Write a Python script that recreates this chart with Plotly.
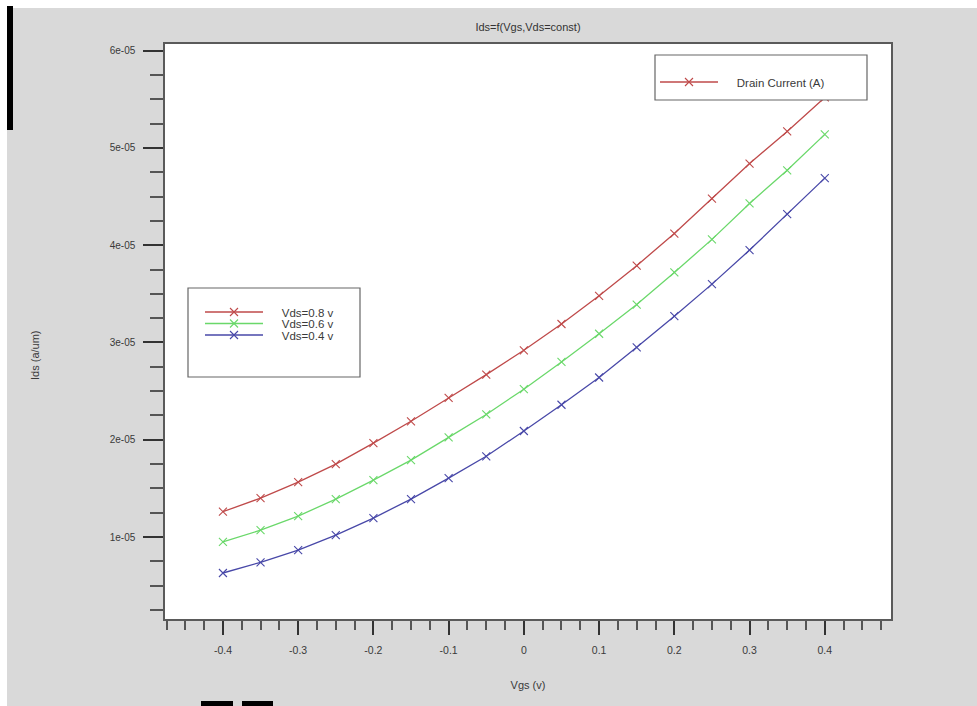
import plotly.graph_objects as go

# ---------------- data ----------------
vgs = [-0.4, -0.35, -0.3, -0.25, -0.2, -0.15, -0.1, -0.05, 0.0,
       0.05, 0.1, 0.15, 0.2, 0.25, 0.3, 0.35, 0.4]
ids_vds08 = [1.26e-05, 1.40e-05, 1.565e-05, 1.75e-05, 1.965e-05, 2.19e-05, 2.43e-05, 2.67e-05, 2.92e-05,
             3.19e-05, 3.48e-05, 3.79e-05, 4.12e-05, 4.48e-05, 4.84e-05, 5.17e-05, 5.52e-05]
ids_vds06 = [0.95e-05, 1.07e-05, 1.215e-05, 1.39e-05, 1.585e-05, 1.79e-05, 2.025e-05, 2.26e-05, 2.52e-05,
             2.80e-05, 3.09e-05, 3.39e-05, 3.72e-05, 4.06e-05, 4.43e-05, 4.77e-05, 5.14e-05]
ids_vds04 = [0.63e-05, 0.74e-05, 0.865e-05, 1.02e-05, 1.195e-05, 1.39e-05, 1.605e-05, 1.83e-05, 2.09e-05,
             2.36e-05, 2.64e-05, 2.95e-05, 3.27e-05, 3.60e-05, 3.95e-05, 4.32e-05, 4.69e-05]
series_names = ["Vds=0.8 v", "Vds=0.6 v", "Vds=0.4 v"]
extra_legend_name = "Drain Current (A)"

x_tickvals = [-0.4, -0.3, -0.2, -0.1, 0.0, 0.1, 0.2, 0.3, 0.4]
x_ticktext = ["-0.4", "-0.3", "-0.2", "-0.1", "0", "0.1", "0.2", "0.3", "0.4"]
y_tickvals = [1e-05, 2e-05, 3e-05, 4e-05, 5e-05, 6e-05]
y_ticktext = ["1e-05", "2e-05", "3e-05", "4e-05", "5e-05", "6e-05"]

title_text = "Ids=f(Vgs,Vds=const)"
x_title = "Vgs (v)"
y_title = "Ids (a/um)"

# ---------------- style ----------------
W, H = 977, 706
L, R, T, B = 165, 891, 44, 619          # plot area in pixels
FONT = "Liberation Sans"
TXT = "#3a3a3a"
colors = ["#bf4a4a", "#6ad86a", "#4848a8"]
LEG_PAD = "\u2002\u2002\u2009"          # extra gap between legend sample and label


def px(xp):
    return (xp - L) / (R - L)


def py(yp):
    return (B - yp) / (B - T)


fig = go.Figure()

legend_ids = ["legend", "legend2", "legend3"]
for name, ys, col, lg in zip(series_names, [ids_vds08, ids_vds06, ids_vds04], colors, legend_ids):
    fig.add_trace(go.Scatter(
        x=vgs, y=ys, name=LEG_PAD + name, mode="lines+markers",
        line=dict(color=col, width=1.3),
        marker=dict(symbol="x-thin", size=8, line=dict(color=col, width=1.1)),
        legend=lg,
    ))

# legend-only entry for the upper-right box
fig.add_trace(go.Scatter(
    x=[None], y=[None], name=LEG_PAD + extra_legend_name, mode="lines+markers",
    line=dict(color=colors[0], width=1.3),
    marker=dict(symbol="x-thin", size=8, line=dict(color=colors[0], width=1.1)),
    legend="legend4",
))

legend_common = dict(bgcolor="rgba(0,0,0,0)", borderwidth=0,
                     font=dict(family=FONT, size=11.5, color=TXT),
                     itemwidth=58, xanchor="left", yanchor="middle")

shapes = [
    # white strips at top and left of the picture
    dict(type="rect", xref="paper", yref="paper", x0=px(0), x1=px(W), y0=py(8), y1=py(0),
         fillcolor="white", line=dict(width=0), layer="below"),
    dict(type="rect", xref="paper", yref="paper", x0=px(0), x1=px(7), y0=py(H), y1=py(0),
         fillcolor="white", line=dict(width=0), layer="below"),
    # black bar on the left
    dict(type="rect", xref="paper", yref="paper", x0=px(7), x1=px(13), y0=py(130), y1=py(6),
         fillcolor="black", line=dict(width=0), layer="above"),
    # black blocks at the bottom
    dict(type="rect", xref="paper", yref="paper", x0=px(201), x1=px(233), y0=py(H), y1=py(701),
         fillcolor="black", line=dict(width=0), layer="above"),
    dict(type="rect", xref="paper", yref="paper", x0=px(242), x1=px(273), y0=py(H), y1=py(701),
         fillcolor="black", line=dict(width=0), layer="above"),
    # legend boxes
    dict(type="rect", xref="paper", yref="paper", x0=px(188), x1=px(360), y0=py(377), y1=py(288),
         fillcolor="white", line=dict(color="#666666", width=1.2), layer="above"),
    dict(type="rect", xref="paper", yref="paper", x0=px(655), x1=px(867), y0=py(100), y1=py(55),
         fillcolor="white", line=dict(color="#666666", width=1.2), layer="above"),
]

annotations = [
    dict(text=y_title, xref="paper", yref="paper", x=px(35), y=py(355),
         xanchor="center", yanchor="middle", textangle=-90, showarrow=False,
         font=dict(family=FONT, size=11, color=TXT)),
]

fig.update_layout(
    width=W, height=H,
    margin=dict(l=L, r=W - R, t=T, b=H - B, pad=0),
    paper_bgcolor="#d9d9d9",
    plot_bgcolor="white",
    font=dict(family=FONT, size=10, color=TXT),
    title=dict(text=title_text, x=0.5, xref="paper", xanchor="center",
               y=1 - 27 / H, yref="container", yanchor="middle",
               font=dict(family=FONT, size=11, color="#333333")),
    showlegend=True,
    legend=dict(**legend_common, x=px(200), y=py(312)),
    legend2=dict(**legend_common, x=px(200), y=py(323.5)),
    legend3=dict(**legend_common, x=px(200), y=py(335)),
    legend4=dict(**legend_common, x=px(655), y=py(82)),
    shapes=shapes,
    annotations=annotations,
    xaxis=dict(
        range=[-0.477, 0.488], showgrid=False, zeroline=False,
        showline=True, linecolor="#5a5a5a", linewidth=1.5, mirror=True,
        tickmode="array", tickvals=x_tickvals, ticktext=x_ticktext,
        ticks="outside", ticklen=14, tickwidth=2, tickcolor="#333333",
        ticklabelstandoff=7,
        tickfont=dict(family=FONT, size=10.5, color=TXT),
        minor=dict(dtick=0.025, tick0=0, ticks="outside", ticklen=9, tickwidth=1.5,
                   tickcolor="#555555", showgrid=False),
        title=dict(text=x_title, standoff=26, font=dict(family=FONT, size=11, color=TXT)),
    ),
    yaxis=dict(
        range=[1.57e-06, 6.069e-05], showgrid=False, zeroline=False,
        showline=True, linecolor="#5a5a5a", linewidth=1.5, mirror=True,
        tickmode="array", tickvals=y_tickvals, ticktext=y_ticktext,
        ticks="outside", ticklen=20, tickwidth=2, tickcolor="#333333",
        ticklabelstandoff=6,
        tickfont=dict(family=FONT, size=10, color=TXT),
        minor=dict(dtick=2.5e-06, tick0=0, ticks="outside", ticklen=13, tickwidth=1.5,
                   tickcolor="#555555", showgrid=False),
    ),
)

fig.write_html("out.html")
